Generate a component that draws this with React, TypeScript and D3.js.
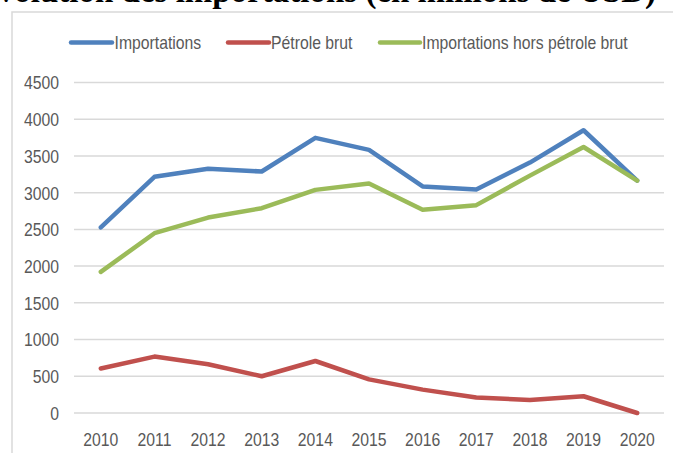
import React from "react";
import * as d3 from "d3";

const years = ["2010", "2011", "2012", "2013", "2014", "2015", "2016", "2017", "2018", "2019", "2020"];
const importations = [2527, 3216, 3325, 3288, 3746, 3583, 3085, 3042, 3410, 3850, 3165];
const petroleBrut = [605, 768, 664, 500, 708, 458, 318, 212, 178, 228, 0];
const horsPetrole = [1922, 2448, 2661, 2788, 3038, 3125, 2767, 2830, 3232, 3622, 3165];
const yTicks = [0, 500, 1000, 1500, 2000, 2500, 3000, 3500, 4000, 4500];
const seriesNames = ["Importations", "Pétrole brut", "Importations hors pétrole brut"];
const title = "Évolution des importations (en millions de USD)";

const W = 673;
const H = 453;
const FONT = "'Liberation Sans', Arial, sans-serif";
const colors = ["#4F81BD", "#C0504D", "#9BBB59"];
const legendPos = [
  { x1: 71, x2: 112, tx: 114.5 },
  { x1: 228, x2: 269, tx: 271 },
  { x1: 380, x2: 420, tx: 422 },
];

function NText(props: { x: number; y: number; anchor?: string; children: React.ReactNode }) {
  return (
    <text
      transform={`translate(${props.x},${props.y}) scale(0.83,1)`}
      dy="0.36em"
      textAnchor={props.anchor || "start"}
      fontFamily={FONT}
      fontSize={19}
      fill="#595959"
    >
      {props.children}
    </text>
  );
}

export default function App() {
  const x = d3.scalePoint<string>().domain(years).range([74, 664]).padding(0.5);
  const y = d3.scaleLinear().domain([0, 4500]).range([413, 82.5]);
  const line = d3
    .line<number>()
    .x((_, i) => x(years[i]) as number)
    .y((d) => y(d));
  const series = [importations, petroleBrut, horsPetrole];

  return (
    <svg
      width={W}
      height={H}
      style={{ position: "absolute", left: 0, top: 0, display: "block", background: "#fff" }}
    >
      <rect x={0} y={0} width={W} height={H} fill="#fff" />
      <text
        x={656}
        y={2}
        textAnchor="end"
        fontFamily="'Liberation Serif', 'Times New Roman', serif"
        fontWeight="bold"
        fontSize={33}
        fill="#000"
      >
        {title}
      </text>
      <rect x={12} y={12} width={W + 20} height={H + 20} fill="none" stroke="#D9D9D9" strokeWidth={1.5} />
      {yTicks.map((t) => (
        <line key={t} x1={74} x2={664} y1={y(t)} y2={y(t)} stroke="#D9D9D9" strokeWidth={1.5} />
      ))}
      {yTicks.map((t) => (
        <NText key={"l" + t} x={59} y={y(t)} anchor="end">
          {t}
        </NText>
      ))}
      {years.map((yr) => (
        <NText key={yr} x={x(yr) as number} y={439} anchor="middle">
          {yr}
        </NText>
      ))}
      {series.map((s, i) => (
        <path
          key={i}
          d={line(s) as string}
          fill="none"
          stroke={colors[i]}
          strokeWidth={4.5}
          strokeLinejoin="round"
          strokeLinecap="round"
        />
      ))}
      {seriesNames.map((n, i) => (
        <g key={n}>
          <line
            x1={legendPos[i].x1}
            x2={legendPos[i].x2}
            y1={42.5}
            y2={42.5}
            stroke={colors[i]}
            strokeWidth={4.5}
            strokeLinecap="round"
          />
          <NText x={legendPos[i].tx} y={42.5}>
            {n}
          </NText>
        </g>
      ))}
    </svg>
  );
}
